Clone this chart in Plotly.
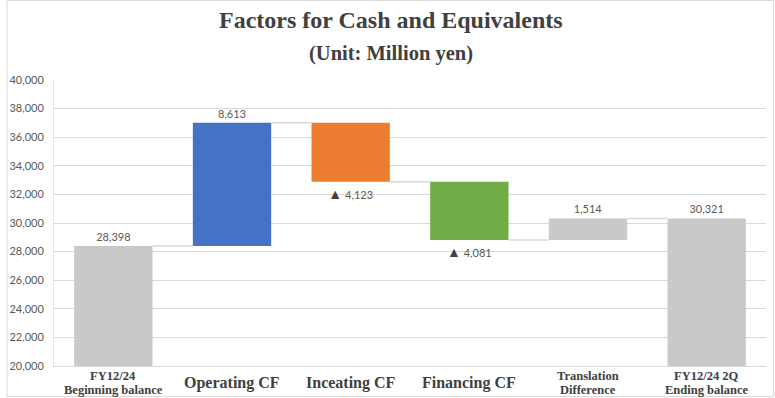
import plotly.graph_objects as go

# ---- data ----
categories = ["FY12/24\nBeginning balance", "Operating CF", "Inceating CF",
              "Financing CF", "Translation\nDifference", "FY12/24 2Q\nEnding balance"]
measures = ["total", "relative", "relative", "relative", "relative", "total"]
values = [28398, 8613, -4123, -4081, 1514, 30321]
bar_colors = ["#C9C9C9", "#4472C4", "#ED7D31", "#70AD47", "#C9C9C9", "#C9C9C9"]
y_ticks = list(range(20000, 40001, 2000))

title_text = "Factors for Cash and Equivalents"
subtitle_text = "(Unit: Million yen)"

# ---- derived waterfall geometry ----
bases, heights, ends, labels = [], [], [], []
running = 0
for m, v in zip(measures, values):
    if m == "total":
        bases.append(0)
        heights.append(v)
        running = v
    else:
        bases.append(running)
        heights.append(v)
        running += v
    ends.append(running)
    if v >= 0:
        labels.append(f"{v:,}")
    else:
        labels.append("<span style='font-size:14px;color:#404040'>▲</span> " + f"{-v:,}")

xs = list(range(len(categories)))
bar_w = 0.66

fig = go.Figure()

# connectors
for i in range(len(xs) - 1):
    fig.add_trace(go.Scatter(
        x=[xs[i] + bar_w / 2, xs[i + 1] - bar_w / 2], y=[ends[i], ends[i]],
        mode="lines", line=dict(color="#D9D9D9", width=1.5),
        hoverinfo="skip", showlegend=False))

fig.add_trace(go.Bar(
    x=xs, y=heights, base=bases, width=bar_w,
    marker=dict(color=bar_colors, line=dict(width=0)),
    text=labels, textposition="outside",
    textfont=dict(family="Lato, sans-serif", size=11, color="#595959"),
    cliponaxis=False, showlegend=False, hoverinfo="skip"))

L, R, T, B = 48, 9, 80, 32
W, H = 775, 398
pw, ph = W - L - R, H - T - B

annotations = [
    dict(text="<b>" + title_text + "</b>", xref="paper", yref="paper",
         x=(W / 2 - L) / pw, y=(H - B - 20) / ph, xanchor="center", yanchor="middle",
         showarrow=False, font=dict(family="Liberation Serif, serif", size=24, color="#404040")),
    dict(text="<b>" + subtitle_text + "</b>", xref="paper", yref="paper",
         x=(W / 2 - L) / pw, y=(H - B - 53) / ph, xanchor="center", yanchor="middle",
         showarrow=False, font=dict(family="Liberation Serif, serif", size=20.5, color="#404040")),
]

for i, cat in enumerate(categories):
    lines = cat.split("\n")
    if len(lines) == 1:
        annotations.append(dict(
            text="<b>" + lines[0] + "</b>", xref="x", yref="paper", x=i,
            y=-(383 - (H - B)) / ph, xanchor="center", yanchor="middle", showarrow=False,
            font=dict(family="Liberation Serif, serif", size=16, color="#404040")))
    else:
        for j, ln in enumerate(lines):
            py = 375.5 + 14.5 * j
            annotations.append(dict(
                text="<b>" + ln + "</b>", xref="x", yref="paper", x=i,
                y=-(py - (H - B)) / ph, xanchor="center", yanchor="middle", showarrow=False,
                font=dict(family="Liberation Serif, serif", size=12.5, color="#404040")))

fig.update_layout(
    width=W, height=H,
    margin=dict(l=L, r=R, t=T, b=B, pad=0),
    paper_bgcolor="white", plot_bgcolor="white",
    barmode="overlay",
    xaxis=dict(range=[-0.5, len(xs) - 0.5], showticklabels=False, showgrid=False,
               zeroline=False, showline=True, linecolor="#D9D9D9", linewidth=1, fixedrange=True),
    yaxis=dict(range=[20000, 40000], tickvals=y_ticks, tickformat=",",
               showgrid=True, gridcolor="#D9D9D9", gridwidth=1, zeroline=False,
               showline=True, linecolor="#E6E6E6", linewidth=1,
               ticklabelstandoff=7,
               tickfont=dict(family="Lato, sans-serif", size=11, color="#595959")),
    annotations=annotations,
    shapes=[dict(type="rect", xref="paper", yref="paper",
                 x0=-(L - 0.5) / pw, x1=1 + (R - 1.5) / pw,
                 y0=-(B - 1.5) / ph, y1=1 + (T - 0.5) / ph,
                 line=dict(color="#D9D9D9", width=1), fillcolor="rgba(0,0,0,0)", layer="above")],
)

fig.write_html("out.html", config={"displayModeBar": False},
               post_script="document.body.style.margin='0';")
